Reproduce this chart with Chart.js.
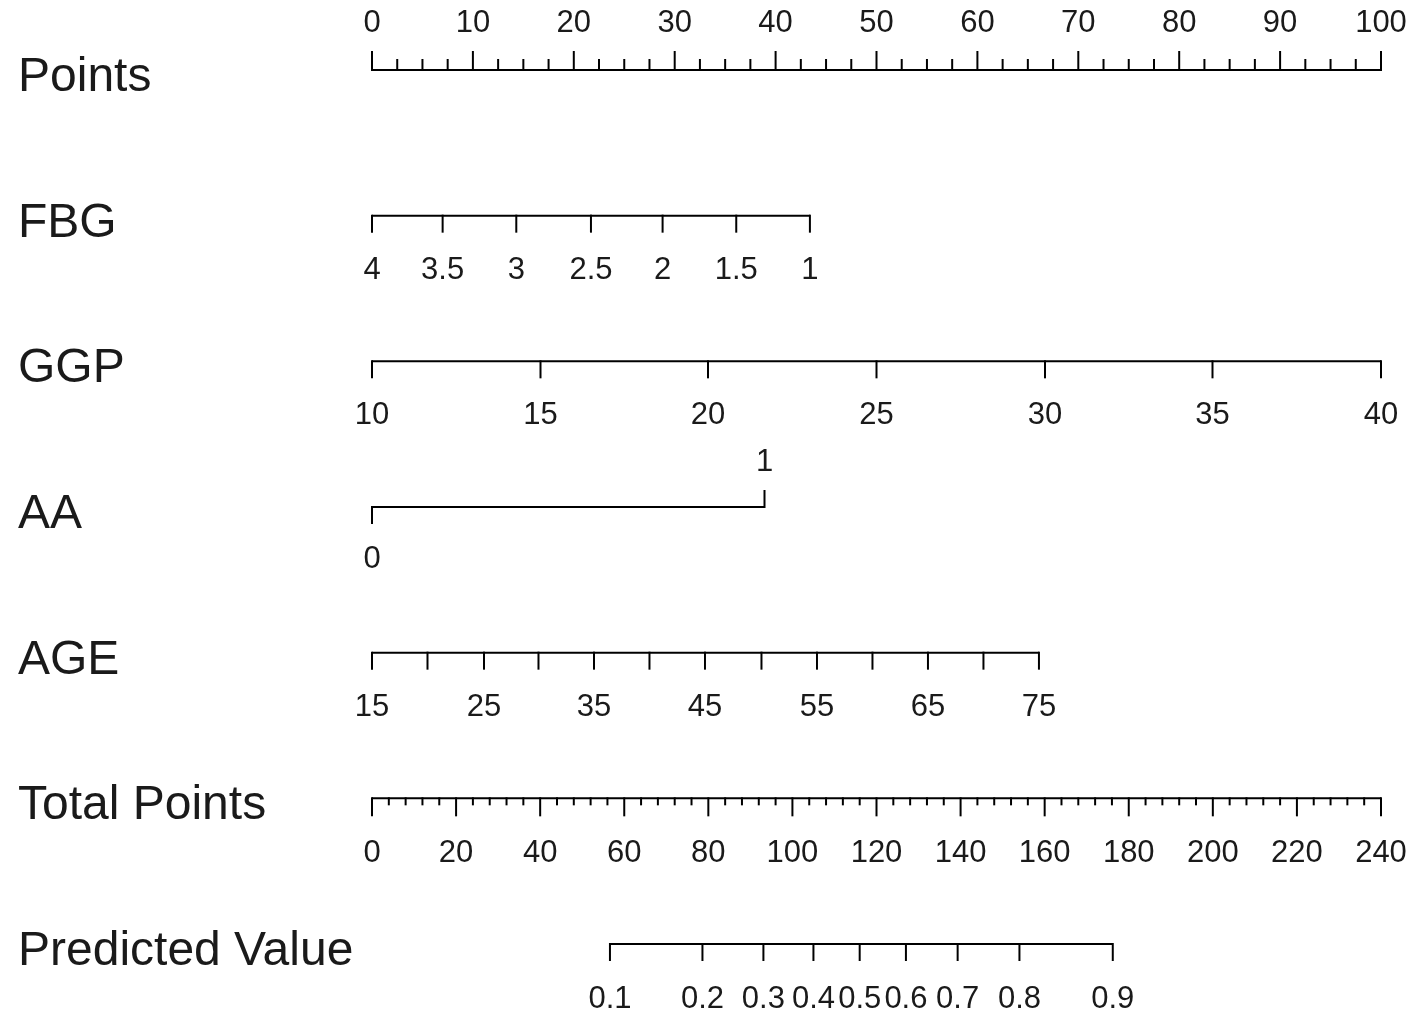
<!DOCTYPE html>
<html>
<head>
<meta charset="utf-8">
<script src="https://cdn.jsdelivr.net/npm/chart.js@4/dist/chart.umd.min.js"></script>
<style>
  html, body { margin: 0; padding: 0; background: #fff; }
  canvas { display: block; }
</style>
</head>
<body>
<canvas id="nomogram" width="1416" height="1025"></canvas>
<script>
// row names, top to bottom
const rowNames = ['Points', 'FBG', 'GGP', 'AA', 'AGE', 'Total Points', 'Predicted Value'];

// Points scale (0-100), labelled every 10, small ticks every 2.5
const pointsValues = [0, 10, 20, 30, 40, 50, 60, 70, 80, 90, 100];
const pointsLabels = ['0', '10', '20', '30', '40', '50', '60', '70', '80', '90', '100'];
const pointsMinor = [2.5, 5, 7.5, 12.5, 15, 17.5, 22.5, 25, 27.5, 32.5, 35, 37.5,
    42.5, 45, 47.5, 52.5, 55, 57.5, 62.5, 65, 67.5, 72.5, 75, 77.5,
    82.5, 85, 87.5, 92.5, 95, 97.5];

// FBG: label -> position on the points scale
const fbgLabels = ['4', '3.5', '3', '2.5', '2', '1.5', '1'];
const fbgPoints = [0, 7.0, 14.3, 21.7, 28.8, 36.1, 43.4];

// GGP
const ggpLabels = ['10', '15', '20', '25', '30', '35', '40'];
const ggpPoints = [0, 16.7, 33.3, 50, 66.7, 83.3, 100];

// AA (0 below the line, 1 above)
const aaLabels = ['0', '1'];
const aaPoints = [0, 38.9];

// AGE: every tick, labels only on 15, 25, ...
const ageValues = [15, 20, 25, 30, 35, 40, 45, 50, 55, 60, 65, 70, 75];
const agePoints = [0, 5.5, 11.1, 16.5, 22.0, 27.5, 33.0, 38.6, 44.1, 49.6, 55.1, 60.6, 66.1];

// Total points scale (0-240), labelled every 20, small ticks every 4
const totalValues = [0, 20, 40, 60, 80, 100, 120, 140, 160, 180, 200, 220, 240];
const totalLabels = ['0', '20', '40', '60', '80', '100', '120', '140', '160', '180', '200', '220', '240'];
const totalMinor = [4, 8, 12, 16, 24, 28, 32, 36, 44, 48, 52, 56, 64, 68, 72, 76, 84, 88, 92, 96,
    104, 108, 112, 116, 124, 128, 132, 136, 144, 148, 152, 156, 164, 168, 172, 176,
    184, 188, 192, 196, 204, 208, 212, 216, 224, 228, 232, 236];

// Predicted value: label -> position on the total points scale
const predLabels = ['0.1', '0.2', '0.3', '0.4', '0.5', '0.6', '0.7', '0.8', '0.9'];
const predTotal = [56.6, 78.6, 93.1, 105.0, 116.0, 127.0, 139.3, 154.0, 176.2];

// how each row is drawn (len < 0 = tick goes up)
const axisRows = [
    { row: 0, axis: 'x', pos: pointsValues, labels: pointsLabels, len: -18, minor: pointsMinor, minorLen: -10, labelDy: -47 },
    { row: 1, axis: 'x', pos: fbgPoints, labels: fbgLabels, len: 16, labelDy: 55 },
    { row: 2, axis: 'x', pos: ggpPoints, labels: ggpLabels, len: 16, labelDy: 54 },
    { row: 3, axis: 'x', pos: aaPoints, labels: aaLabels, len: [16, -16], labelDy: [52, -45] },
    { row: 4, axis: 'x', pos: agePoints, labels: ageValues.map(v => (v - 15) % 10 === 0 ? String(v) : ''), len: 16, labelDy: 55 },
    { row: 5, axis: 'x2', pos: totalValues, labels: totalLabels, len: 17, minor: totalMinor, minorLen: 6, labelDy: 55 },
    { row: 6, axis: 'x2', pos: predTotal, labels: predLabels, len: 16, labelDy: 55 }
];

function pick(v, i) {
    return Array.isArray(v) ? v[i] : v;
}

const nomogramAxes = {
    id: 'nomogramAxes',
    afterDatasetsDraw(chart) {
        const { ctx, scales } = chart;
        const yScale = scales.y;

        ctx.save();
        ctx.strokeStyle = '#000';
        ctx.lineWidth = 2;
        ctx.lineCap = 'square';
        ctx.fillStyle = '#1a1a1a';
        ctx.font = '31px "Liberation Sans", Arial, sans-serif';
        ctx.textAlign = 'center';
        ctx.textBaseline = 'middle';

        const tick = (px, py, len) => {
            ctx.beginPath();
            ctx.moveTo(px, py);
            ctx.lineTo(px, py + len);
            ctx.stroke();
        };

        axisRows.forEach(r => {
            const sx = scales[r.axis];
            const py = yScale.getPixelForValue(r.row);

            if (r.minor) {
                r.minor.forEach(v => tick(sx.getPixelForValue(v), py, r.minorLen));
            }

            r.pos.forEach((v, i) => {
                const px = sx.getPixelForValue(v);
                tick(px, py, pick(r.len, i));
                const txt = r.labels[i];
                if (txt) ctx.fillText(txt, px, py + pick(r.labelDy, i));
            });
        });

        // names on the left
        ctx.font = '48px "Liberation Sans", Arial, sans-serif';
        ctx.textAlign = 'left';
        ctx.textBaseline = 'alphabetic';
        rowNames.forEach((name, i) => {
            ctx.fillText(name, 18, yScale.getPixelForValue(i) + 21);
        });
        ctx.restore();
    }
};

function rowLine(row, axis, pos) {
    return {
        data: [{ x: pos[0], y: row }, { x: pos[pos.length - 1], y: row }],
        xAxisID: axis,
        showLine: true,
        borderColor: '#000',
        borderWidth: 2,
        pointRadius: 0,
        clip: false
    };
}

const chart = new Chart(document.getElementById('nomogram'), {
    type: 'scatter',
    data: {
        datasets: axisRows.map(r => rowLine(r.row, r.axis, r.pos))
    },
    options: {
        responsive: false,
        animation: false,
        layout: {
            padding: { left: 372, right: 35, top: 70, bottom: 81 }
        },
        plugins: {
            legend: { display: false },
            tooltip: { enabled: false }
        },
        scales: {
            x: { type: 'linear', min: 0, max: 100, display: false },
            x2: { type: 'linear', axis: 'x', position: 'bottom', min: 0, max: 240, display: false },
            y: { type: 'linear', min: 0, max: 6, reverse: true, display: false }
        }
    },
    plugins: [nomogramAxes]
});
</script>
</body>
</html>
